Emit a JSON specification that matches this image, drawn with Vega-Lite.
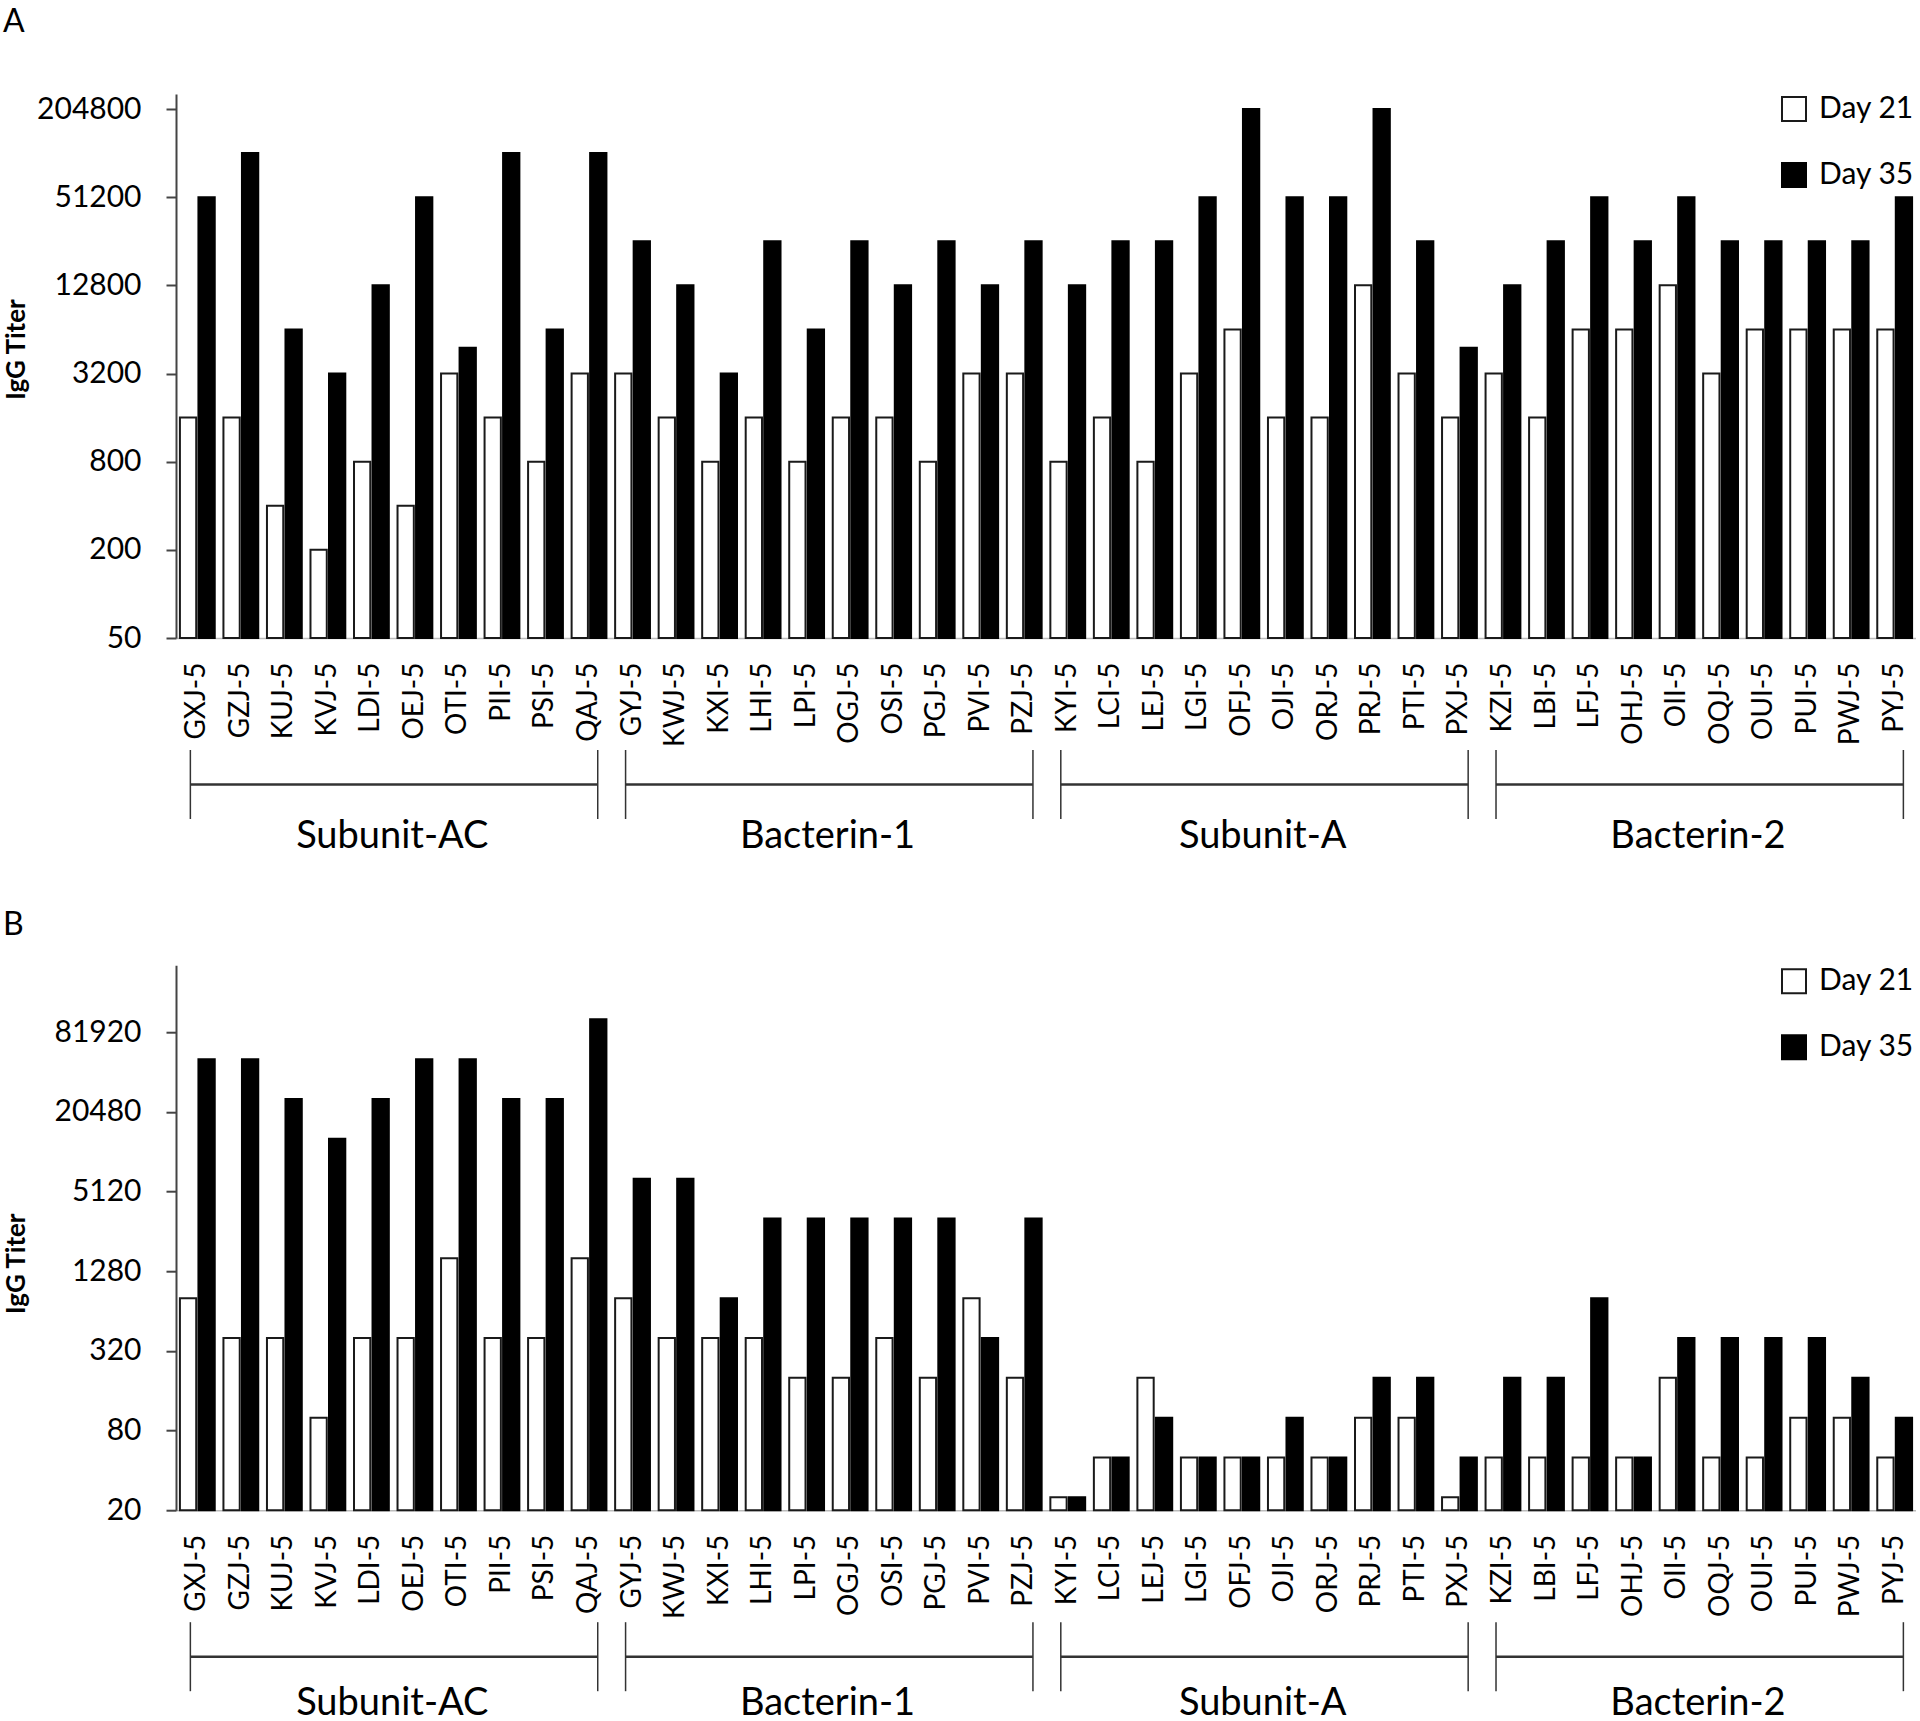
{
  "$schema": "https://vega.github.io/schema/vega-lite/v6.json",
  "background": "white",
  "padding": {"left": 3, "top": 5, "right": 0, "bottom": 0},
  "config": {
    "font": "Lato",
    "view": {"stroke": null},
    "axis": {"grid": false, "labelColor": "black", "titleColor": "black", "labelFont": "Lato", "titleFont": "Lato"},
    "title": {"font": "Lato", "color": "black"},
    "text": {"font": "Lato"},
    "legend": {"labelFont": "Lato"}
  },
  "datasets": {
    "groups": [
      {"group": "Subunit-AC", "first": "GXJ-5", "mid": "LDI-5", "last": "QAJ-5"},
      {"group": "Bacterin-1", "first": "GYJ-5", "mid": "LPI-5", "last": "PZJ-5"},
      {"group": "Subunit-A", "first": "KYI-5", "mid": "OFJ-5", "last": "PXJ-5"},
      {"group": "Bacterin-2", "first": "KZI-5", "mid": "OII-5", "last": "PYJ-5"}
    ],
    "titers": [
      {"panel": "A", "animal": "GXJ-5", "day": "Day 21", "titer": 1600}, {"panel": "A", "animal": "GXJ-5", "day": "Day 35", "titer": 51200},
      {"panel": "A", "animal": "GZJ-5", "day": "Day 21", "titer": 1600}, {"panel": "A", "animal": "GZJ-5", "day": "Day 35", "titer": 102400},
      {"panel": "A", "animal": "KUJ-5", "day": "Day 21", "titer": 400}, {"panel": "A", "animal": "KUJ-5", "day": "Day 35", "titer": 6400},
      {"panel": "A", "animal": "KVJ-5", "day": "Day 21", "titer": 200}, {"panel": "A", "animal": "KVJ-5", "day": "Day 35", "titer": 3200},
      {"panel": "A", "animal": "LDI-5", "day": "Day 21", "titer": 800}, {"panel": "A", "animal": "LDI-5", "day": "Day 35", "titer": 12800},
      {"panel": "A", "animal": "OEJ-5", "day": "Day 21", "titer": 400}, {"panel": "A", "animal": "OEJ-5", "day": "Day 35", "titer": 51200},
      {"panel": "A", "animal": "OTI-5", "day": "Day 21", "titer": 3200}, {"panel": "A", "animal": "OTI-5", "day": "Day 35", "titer": 4800},
      {"panel": "A", "animal": "PII-5", "day": "Day 21", "titer": 1600}, {"panel": "A", "animal": "PII-5", "day": "Day 35", "titer": 102400},
      {"panel": "A", "animal": "PSI-5", "day": "Day 21", "titer": 800}, {"panel": "A", "animal": "PSI-5", "day": "Day 35", "titer": 6400},
      {"panel": "A", "animal": "QAJ-5", "day": "Day 21", "titer": 3200}, {"panel": "A", "animal": "QAJ-5", "day": "Day 35", "titer": 102400},
      {"panel": "A", "animal": "GYJ-5", "day": "Day 21", "titer": 3200}, {"panel": "A", "animal": "GYJ-5", "day": "Day 35", "titer": 25600},
      {"panel": "A", "animal": "KWJ-5", "day": "Day 21", "titer": 1600}, {"panel": "A", "animal": "KWJ-5", "day": "Day 35", "titer": 12800},
      {"panel": "A", "animal": "KXI-5", "day": "Day 21", "titer": 800}, {"panel": "A", "animal": "KXI-5", "day": "Day 35", "titer": 3200},
      {"panel": "A", "animal": "LHI-5", "day": "Day 21", "titer": 1600}, {"panel": "A", "animal": "LHI-5", "day": "Day 35", "titer": 25600},
      {"panel": "A", "animal": "LPI-5", "day": "Day 21", "titer": 800}, {"panel": "A", "animal": "LPI-5", "day": "Day 35", "titer": 6400},
      {"panel": "A", "animal": "OGJ-5", "day": "Day 21", "titer": 1600}, {"panel": "A", "animal": "OGJ-5", "day": "Day 35", "titer": 25600},
      {"panel": "A", "animal": "OSI-5", "day": "Day 21", "titer": 1600}, {"panel": "A", "animal": "OSI-5", "day": "Day 35", "titer": 12800},
      {"panel": "A", "animal": "PGJ-5", "day": "Day 21", "titer": 800}, {"panel": "A", "animal": "PGJ-5", "day": "Day 35", "titer": 25600},
      {"panel": "A", "animal": "PVI-5", "day": "Day 21", "titer": 3200}, {"panel": "A", "animal": "PVI-5", "day": "Day 35", "titer": 12800},
      {"panel": "A", "animal": "PZJ-5", "day": "Day 21", "titer": 3200}, {"panel": "A", "animal": "PZJ-5", "day": "Day 35", "titer": 25600},
      {"panel": "A", "animal": "KYI-5", "day": "Day 21", "titer": 800}, {"panel": "A", "animal": "KYI-5", "day": "Day 35", "titer": 12800},
      {"panel": "A", "animal": "LCI-5", "day": "Day 21", "titer": 1600}, {"panel": "A", "animal": "LCI-5", "day": "Day 35", "titer": 25600},
      {"panel": "A", "animal": "LEJ-5", "day": "Day 21", "titer": 800}, {"panel": "A", "animal": "LEJ-5", "day": "Day 35", "titer": 25600},
      {"panel": "A", "animal": "LGI-5", "day": "Day 21", "titer": 3200}, {"panel": "A", "animal": "LGI-5", "day": "Day 35", "titer": 51200},
      {"panel": "A", "animal": "OFJ-5", "day": "Day 21", "titer": 6400}, {"panel": "A", "animal": "OFJ-5", "day": "Day 35", "titer": 204800},
      {"panel": "A", "animal": "OJI-5", "day": "Day 21", "titer": 1600}, {"panel": "A", "animal": "OJI-5", "day": "Day 35", "titer": 51200},
      {"panel": "A", "animal": "ORJ-5", "day": "Day 21", "titer": 1600}, {"panel": "A", "animal": "ORJ-5", "day": "Day 35", "titer": 51200},
      {"panel": "A", "animal": "PRJ-5", "day": "Day 21", "titer": 12800}, {"panel": "A", "animal": "PRJ-5", "day": "Day 35", "titer": 204800},
      {"panel": "A", "animal": "PTI-5", "day": "Day 21", "titer": 3200}, {"panel": "A", "animal": "PTI-5", "day": "Day 35", "titer": 25600},
      {"panel": "A", "animal": "PXJ-5", "day": "Day 21", "titer": 1600}, {"panel": "A", "animal": "PXJ-5", "day": "Day 35", "titer": 4800},
      {"panel": "A", "animal": "KZI-5", "day": "Day 21", "titer": 3200}, {"panel": "A", "animal": "KZI-5", "day": "Day 35", "titer": 12800},
      {"panel": "A", "animal": "LBI-5", "day": "Day 21", "titer": 1600}, {"panel": "A", "animal": "LBI-5", "day": "Day 35", "titer": 25600},
      {"panel": "A", "animal": "LFJ-5", "day": "Day 21", "titer": 6400}, {"panel": "A", "animal": "LFJ-5", "day": "Day 35", "titer": 51200},
      {"panel": "A", "animal": "OHJ-5", "day": "Day 21", "titer": 6400}, {"panel": "A", "animal": "OHJ-5", "day": "Day 35", "titer": 25600},
      {"panel": "A", "animal": "OII-5", "day": "Day 21", "titer": 12800}, {"panel": "A", "animal": "OII-5", "day": "Day 35", "titer": 51200},
      {"panel": "A", "animal": "OQJ-5", "day": "Day 21", "titer": 3200}, {"panel": "A", "animal": "OQJ-5", "day": "Day 35", "titer": 25600},
      {"panel": "A", "animal": "OUI-5", "day": "Day 21", "titer": 6400}, {"panel": "A", "animal": "OUI-5", "day": "Day 35", "titer": 25600},
      {"panel": "A", "animal": "PUI-5", "day": "Day 21", "titer": 6400}, {"panel": "A", "animal": "PUI-5", "day": "Day 35", "titer": 25600},
      {"panel": "A", "animal": "PWJ-5", "day": "Day 21", "titer": 6400}, {"panel": "A", "animal": "PWJ-5", "day": "Day 35", "titer": 25600},
      {"panel": "A", "animal": "PYJ-5", "day": "Day 21", "titer": 6400}, {"panel": "A", "animal": "PYJ-5", "day": "Day 35", "titer": 51200},
      {"panel": "B", "animal": "GXJ-5", "day": "Day 21", "titer": 800}, {"panel": "B", "animal": "GXJ-5", "day": "Day 35", "titer": 51200},
      {"panel": "B", "animal": "GZJ-5", "day": "Day 21", "titer": 400}, {"panel": "B", "animal": "GZJ-5", "day": "Day 35", "titer": 51200},
      {"panel": "B", "animal": "KUJ-5", "day": "Day 21", "titer": 400}, {"panel": "B", "animal": "KUJ-5", "day": "Day 35", "titer": 25600},
      {"panel": "B", "animal": "KVJ-5", "day": "Day 21", "titer": 100}, {"panel": "B", "animal": "KVJ-5", "day": "Day 35", "titer": 12800},
      {"panel": "B", "animal": "LDI-5", "day": "Day 21", "titer": 400}, {"panel": "B", "animal": "LDI-5", "day": "Day 35", "titer": 25600},
      {"panel": "B", "animal": "OEJ-5", "day": "Day 21", "titer": 400}, {"panel": "B", "animal": "OEJ-5", "day": "Day 35", "titer": 51200},
      {"panel": "B", "animal": "OTI-5", "day": "Day 21", "titer": 1600}, {"panel": "B", "animal": "OTI-5", "day": "Day 35", "titer": 51200},
      {"panel": "B", "animal": "PII-5", "day": "Day 21", "titer": 400}, {"panel": "B", "animal": "PII-5", "day": "Day 35", "titer": 25600},
      {"panel": "B", "animal": "PSI-5", "day": "Day 21", "titer": 400}, {"panel": "B", "animal": "PSI-5", "day": "Day 35", "titer": 25600},
      {"panel": "B", "animal": "QAJ-5", "day": "Day 21", "titer": 1600}, {"panel": "B", "animal": "QAJ-5", "day": "Day 35", "titer": 102400},
      {"panel": "B", "animal": "GYJ-5", "day": "Day 21", "titer": 800}, {"panel": "B", "animal": "GYJ-5", "day": "Day 35", "titer": 6400},
      {"panel": "B", "animal": "KWJ-5", "day": "Day 21", "titer": 400}, {"panel": "B", "animal": "KWJ-5", "day": "Day 35", "titer": 6400},
      {"panel": "B", "animal": "KXI-5", "day": "Day 21", "titer": 400}, {"panel": "B", "animal": "KXI-5", "day": "Day 35", "titer": 800},
      {"panel": "B", "animal": "LHI-5", "day": "Day 21", "titer": 400}, {"panel": "B", "animal": "LHI-5", "day": "Day 35", "titer": 3200},
      {"panel": "B", "animal": "LPI-5", "day": "Day 21", "titer": 200}, {"panel": "B", "animal": "LPI-5", "day": "Day 35", "titer": 3200},
      {"panel": "B", "animal": "OGJ-5", "day": "Day 21", "titer": 200}, {"panel": "B", "animal": "OGJ-5", "day": "Day 35", "titer": 3200},
      {"panel": "B", "animal": "OSI-5", "day": "Day 21", "titer": 400}, {"panel": "B", "animal": "OSI-5", "day": "Day 35", "titer": 3200},
      {"panel": "B", "animal": "PGJ-5", "day": "Day 21", "titer": 200}, {"panel": "B", "animal": "PGJ-5", "day": "Day 35", "titer": 3200},
      {"panel": "B", "animal": "PVI-5", "day": "Day 21", "titer": 800}, {"panel": "B", "animal": "PVI-5", "day": "Day 35", "titer": 400},
      {"panel": "B", "animal": "PZJ-5", "day": "Day 21", "titer": 200}, {"panel": "B", "animal": "PZJ-5", "day": "Day 35", "titer": 3200},
      {"panel": "B", "animal": "KYI-5", "day": "Day 21", "titer": 25}, {"panel": "B", "animal": "KYI-5", "day": "Day 35", "titer": 25},
      {"panel": "B", "animal": "LCI-5", "day": "Day 21", "titer": 50}, {"panel": "B", "animal": "LCI-5", "day": "Day 35", "titer": 50},
      {"panel": "B", "animal": "LEJ-5", "day": "Day 21", "titer": 200}, {"panel": "B", "animal": "LEJ-5", "day": "Day 35", "titer": 100},
      {"panel": "B", "animal": "LGI-5", "day": "Day 21", "titer": 50}, {"panel": "B", "animal": "LGI-5", "day": "Day 35", "titer": 50},
      {"panel": "B", "animal": "OFJ-5", "day": "Day 21", "titer": 50}, {"panel": "B", "animal": "OFJ-5", "day": "Day 35", "titer": 50},
      {"panel": "B", "animal": "OJI-5", "day": "Day 21", "titer": 50}, {"panel": "B", "animal": "OJI-5", "day": "Day 35", "titer": 100},
      {"panel": "B", "animal": "ORJ-5", "day": "Day 21", "titer": 50}, {"panel": "B", "animal": "ORJ-5", "day": "Day 35", "titer": 50},
      {"panel": "B", "animal": "PRJ-5", "day": "Day 21", "titer": 100}, {"panel": "B", "animal": "PRJ-5", "day": "Day 35", "titer": 200},
      {"panel": "B", "animal": "PTI-5", "day": "Day 21", "titer": 100}, {"panel": "B", "animal": "PTI-5", "day": "Day 35", "titer": 200},
      {"panel": "B", "animal": "PXJ-5", "day": "Day 21", "titer": 25}, {"panel": "B", "animal": "PXJ-5", "day": "Day 35", "titer": 50},
      {"panel": "B", "animal": "KZI-5", "day": "Day 21", "titer": 50}, {"panel": "B", "animal": "KZI-5", "day": "Day 35", "titer": 200},
      {"panel": "B", "animal": "LBI-5", "day": "Day 21", "titer": 50}, {"panel": "B", "animal": "LBI-5", "day": "Day 35", "titer": 200},
      {"panel": "B", "animal": "LFJ-5", "day": "Day 21", "titer": 50}, {"panel": "B", "animal": "LFJ-5", "day": "Day 35", "titer": 800},
      {"panel": "B", "animal": "OHJ-5", "day": "Day 21", "titer": 50}, {"panel": "B", "animal": "OHJ-5", "day": "Day 35", "titer": 50},
      {"panel": "B", "animal": "OII-5", "day": "Day 21", "titer": 200}, {"panel": "B", "animal": "OII-5", "day": "Day 35", "titer": 400},
      {"panel": "B", "animal": "OQJ-5", "day": "Day 21", "titer": 50}, {"panel": "B", "animal": "OQJ-5", "day": "Day 35", "titer": 400},
      {"panel": "B", "animal": "OUI-5", "day": "Day 21", "titer": 50}, {"panel": "B", "animal": "OUI-5", "day": "Day 35", "titer": 400},
      {"panel": "B", "animal": "PUI-5", "day": "Day 21", "titer": 100}, {"panel": "B", "animal": "PUI-5", "day": "Day 35", "titer": 400},
      {"panel": "B", "animal": "PWJ-5", "day": "Day 21", "titer": 100}, {"panel": "B", "animal": "PWJ-5", "day": "Day 35", "titer": 200},
      {"panel": "B", "animal": "PYJ-5", "day": "Day 21", "titer": 50}, {"panel": "B", "animal": "PYJ-5", "day": "Day 35", "titer": 100}
    ]
  },
  "spacing": 51.2,
  "resolve": {"scale": {"x": "independent", "y": "independent", "xOffset": "independent", "fill": "independent", "stroke": "independent"}, "legend": {"fill": "independent"}},
  "vconcat": [
    {
      "spacing": 2,
      "resolve": {"scale": {"x": "independent", "y": "independent", "xOffset": "independent", "fill": "independent", "stroke": "independent"}, "legend": {"fill": "independent"}},
      "vconcat": [
        {
          "title": {"text": "A", "anchor": "start", "frame": "bounds", "fontSize": 32, "fontWeight": "normal", "baseline": "bottom", "offset": 23.5},
          "width": 1740,
          "height": 544,
          "data": {"name": "titers"},
          "transform": [{"filter": "datum.panel == 'A'"}],
          "mark": {"type": "bar", "strokeWidth": 2},
          "encoding": {
            "x": {"field": "animal", "type": "nominal",
              "scale": {"type": "band", "paddingInner": 0.2, "paddingOuter": 0.09, "domain": ["GXJ-5","GZJ-5","KUJ-5","KVJ-5","LDI-5","OEJ-5","OTI-5","PII-5","PSI-5","QAJ-5","GYJ-5","KWJ-5","KXI-5","LHI-5","LPI-5","OGJ-5","OSI-5","PGJ-5","PVI-5","PZJ-5","KYI-5","LCI-5","LEJ-5","LGI-5","OFJ-5","OJI-5","ORJ-5","PRJ-5","PTI-5","PXJ-5","KZI-5","LBI-5","LFJ-5","OHJ-5","OII-5","OQJ-5","OUI-5","PUI-5","PWJ-5","PYJ-5"]},
              "axis": {"title": null, "labelAngle": -90, "labelAlign": "right", "labelBaseline": "middle", "labelFontSize": 28, "labelPadding": 24, "ticks": false, "domainColor": "#bbbbbb", "domainWidth": 1.5}},
            "xOffset": {"field": "day", "type": "nominal", "scale": {"domain": ["Day 21", "Day 35"], "paddingInner": 0.12}},
            "y": {"field": "titer", "type": "quantitative",
              "scale": {"type": "log", "domain": [50, 259300], "nice": false},
              "axis": {"title": "IgG Titer", "titleY": 255, "values": [50, 200, 800, 3200, 12800, 51200, 204800], "format": "d", "labelFontSize": 30, "labelPadding": 25, "tickSize": 10, "tickWidth": 2, "tickColor": "#444444", "domainColor": "#444444", "domainWidth": 2, "titleFontSize": 26, "titleFontWeight": "bold", "titlePadding": 7, "minExtent": 140, "labelFlush": false}},
            "y2": {"datum": 50},
            "fill": {"field": "day", "type": "nominal", "scale": {"domain": ["Day 21", "Day 35"], "range": ["#ffffff", "#000000"]},
              "legend": {"title": null, "orient": "none", "legendX": 1603, "legendY": 0, "symbolType": "square", "symbolSize": 576, "symbolStrokeColor": "#555555", "symbolStrokeWidth": 2, "labelFontSize": 30, "labelOffset": 10, "rowPadding": 34, "padding": 0, "labelColor": "black"}},
            "stroke": {"field": "day", "type": "nominal", "scale": {"domain": ["Day 21", "Day 35"], "range": ["#1a1a1a", "#000000"]}, "legend": null}
          }
        },
        {
          "width": 1740,
          "height": 98.3,
          "data": {"name": "groups"},
          "layer": [
            {"mark": {"type": "rule", "color": "#333333", "strokeWidth": 2.5},
             "encoding": {
               "x": {"field": "first", "type": "nominal", "bandPosition": 0.3, "axis": null,
                 "scale": {"type": "band", "paddingInner": 0.2, "paddingOuter": 0.09, "domain": ["GXJ-5","GZJ-5","KUJ-5","KVJ-5","LDI-5","OEJ-5","OTI-5","PII-5","PSI-5","QAJ-5","GYJ-5","KWJ-5","KXI-5","LHI-5","LPI-5","OGJ-5","OSI-5","PGJ-5","PVI-5","PZJ-5","KYI-5","LCI-5","LEJ-5","LGI-5","OFJ-5","OJI-5","ORJ-5","PRJ-5","PTI-5","PXJ-5","KZI-5","LBI-5","LFJ-5","OHJ-5","OII-5","OQJ-5","OUI-5","PUI-5","PWJ-5","PYJ-5"]}},
               "x2": {"field": "last", "bandPosition": 0.75},
               "y": {"datum": 2, "type": "quantitative", "scale": {"domain": [0.15, 3], "nice": false, "zero": false},
                 "axis": {"title": " ", "titleOpacity": 0, "titleFontSize": 26, "titleFontWeight": "bold", "titlePadding": 7, "minExtent": 140, "values": [1.5], "labels": false, "ticks": false, "domain": false}}
             }},
            {"mark": {"type": "rule", "color": "#333333", "strokeWidth": 1.5},
             "encoding": {"x": {"field": "first", "type": "nominal", "bandPosition": 0.3}, "y": {"datum": 3}, "y2": {"datum": 1}}},
            {"mark": {"type": "rule", "color": "#333333", "strokeWidth": 1.5},
             "encoding": {"x": {"field": "last", "type": "nominal", "bandPosition": 0.75}, "y": {"datum": 3}, "y2": {"datum": 1}}},
            {"mark": {"type": "text", "fontSize": 38, "align": "center", "baseline": "alphabetic", "color": "black"},
             "encoding": {"x": {"field": "mid", "type": "nominal", "bandPosition": 1.1}, "y": {"datum": 0.15}, "text": {"field": "group"}}}
          ]
        }
      ]
    },
    {
      "spacing": 2,
      "resolve": {"scale": {"x": "independent", "y": "independent", "xOffset": "independent", "fill": "independent", "stroke": "independent"}, "legend": {"fill": "independent"}},
      "vconcat": [
        {
          "title": {"text": "B", "anchor": "start", "frame": "bounds", "fontSize": 32, "fontWeight": "normal", "baseline": "bottom", "offset": -8.5},
          "width": 1740,
          "height": 545,
          "data": {"name": "titers"},
          "transform": [{"filter": "datum.panel == 'B'"}],
          "mark": {"type": "bar", "strokeWidth": 2},
          "encoding": {
            "x": {"field": "animal", "type": "nominal",
              "scale": {"type": "band", "paddingInner": 0.2, "paddingOuter": 0.09, "domain": ["GXJ-5","GZJ-5","KUJ-5","KVJ-5","LDI-5","OEJ-5","OTI-5","PII-5","PSI-5","QAJ-5","GYJ-5","KWJ-5","KXI-5","LHI-5","LPI-5","OGJ-5","OSI-5","PGJ-5","PVI-5","PZJ-5","KYI-5","LCI-5","LEJ-5","LGI-5","OFJ-5","OJI-5","ORJ-5","PRJ-5","PTI-5","PXJ-5","KZI-5","LBI-5","LFJ-5","OHJ-5","OII-5","OQJ-5","OUI-5","PUI-5","PWJ-5","PYJ-5"]},
              "axis": {"title": null, "labelAngle": -90, "labelAlign": "right", "labelBaseline": "middle", "labelFontSize": 28, "labelPadding": 24, "ticks": false, "domainColor": "#bbbbbb", "domainWidth": 1.5}},
            "xOffset": {"field": "day", "type": "nominal", "scale": {"domain": ["Day 21", "Day 35"], "paddingInner": 0.12}},
            "y": {"field": "titer", "type": "quantitative",
              "scale": {"type": "log", "domain": [20, 262500], "nice": false},
              "axis": {"title": "IgG Titer", "titleY": 298, "values": [20, 80, 320, 1280, 5120, 20480, 81920], "format": "d", "labelFontSize": 30, "labelPadding": 25, "tickSize": 10, "tickWidth": 2, "tickColor": "#444444", "domainColor": "#444444", "domainWidth": 2, "titleFontSize": 26, "titleFontWeight": "bold", "titlePadding": 7, "minExtent": 140, "labelFlush": false}},
            "y2": {"datum": 20},
            "fill": {"field": "day", "type": "nominal", "scale": {"domain": ["Day 21", "Day 35"], "range": ["#ffffff", "#000000"]},
              "legend": {"title": null, "orient": "none", "legendX": 1603, "legendY": 1, "symbolType": "square", "symbolSize": 576, "symbolStrokeColor": "#555555", "symbolStrokeWidth": 2, "labelFontSize": 30, "labelOffset": 10, "rowPadding": 34, "padding": 0, "labelColor": "black"}},
            "stroke": {"field": "day", "type": "nominal", "scale": {"domain": ["Day 21", "Day 35"], "range": ["#1a1a1a", "#000000"]}, "legend": null}
          }
        },
        {
          "width": 1740,
          "height": 93.15,
          "data": {"name": "groups"},
          "layer": [
            {"mark": {"type": "rule", "color": "#333333", "strokeWidth": 2.5},
             "encoding": {
               "x": {"field": "first", "type": "nominal", "bandPosition": 0.3, "axis": null,
                 "scale": {"type": "band", "paddingInner": 0.2, "paddingOuter": 0.09, "domain": ["GXJ-5","GZJ-5","KUJ-5","KVJ-5","LDI-5","OEJ-5","OTI-5","PII-5","PSI-5","QAJ-5","GYJ-5","KWJ-5","KXI-5","LHI-5","LPI-5","OGJ-5","OSI-5","PGJ-5","PVI-5","PZJ-5","KYI-5","LCI-5","LEJ-5","LGI-5","OFJ-5","OJI-5","ORJ-5","PRJ-5","PTI-5","PXJ-5","KZI-5","LBI-5","LFJ-5","OHJ-5","OII-5","OQJ-5","OUI-5","PUI-5","PWJ-5","PYJ-5"]}},
               "x2": {"field": "last", "bandPosition": 0.75},
               "y": {"datum": 2, "type": "quantitative", "scale": {"domain": [0.3, 3], "nice": false, "zero": false},
                 "axis": {"title": " ", "titleOpacity": 0, "titleFontSize": 26, "titleFontWeight": "bold", "titlePadding": 7, "minExtent": 140, "values": [1.5], "labels": false, "ticks": false, "domain": false}}
             }},
            {"mark": {"type": "rule", "color": "#333333", "strokeWidth": 1.5},
             "encoding": {"x": {"field": "first", "type": "nominal", "bandPosition": 0.3}, "y": {"datum": 3}, "y2": {"datum": 1}}},
            {"mark": {"type": "rule", "color": "#333333", "strokeWidth": 1.5},
             "encoding": {"x": {"field": "last", "type": "nominal", "bandPosition": 0.75}, "y": {"datum": 3}, "y2": {"datum": 1}}},
            {"mark": {"type": "text", "fontSize": 38, "align": "center", "baseline": "alphabetic", "color": "black"},
             "encoding": {"x": {"field": "mid", "type": "nominal", "bandPosition": 1.1}, "y": {"datum": 0.3}, "text": {"field": "group"}}}
          ]
        }
      ]
    }
  ]
}
